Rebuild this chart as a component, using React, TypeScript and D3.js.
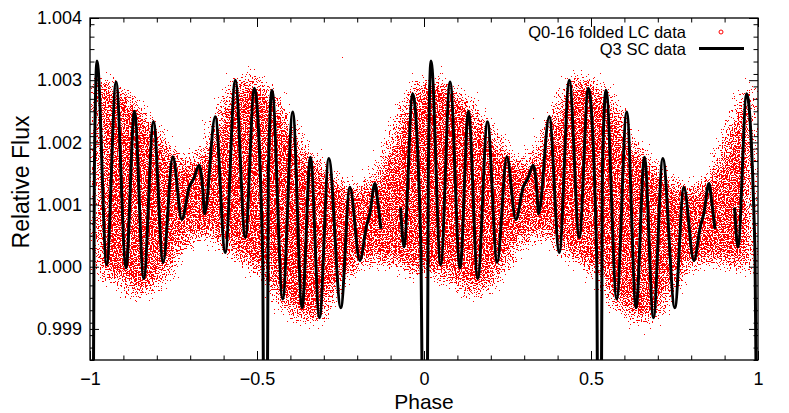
import React, { useEffect, useRef } from 'react'
import * as d3 from 'd3'

// folded long-cadence cloud: envelope (phase 0..1, repeated at -1..0)
const envPhase = [0, 0.05, 0.1, 0.15, 0.2, 0.25, 0.3, 0.35, 0.4, 0.45, 0.5,
  0.55, 0.6, 0.65, 0.7, 0.75, 0.8, 0.85, 0.9, 0.95, 1.0]
const envUpper = [1.00313, 1.00308, 1.00292, 1.00268, 1.00236, 1.00198, 1.00172, 1.00223, 1.00284, 1.00311, 1.00313,
  1.0029, 1.00252, 1.00198, 1.00171, 1.00147, 1.00132, 1.0016, 1.00235, 1.00287, 1.00313]
const envLower = [0.99982, 0.99977, 0.99955, 0.99942, 0.99958, 0.99985, 1.0003, 1.00045, 1.00018, 1.0, 0.99985,
  0.9994, 0.99913, 0.99902, 0.99907, 0.99952, 0.9999, 1.0, 0.99997, 0.99984, 0.99982]

// Q3 short-cadence curve, null = gap in the data
const scPhase = [0.01, 0.013, 0.021, 0.05, 0.078, 0.108, 0.133, 0.161, 0.19, 0.219, 0.248, 0.275,
  0.297, 0.311, 0.327, 0.338, 0.343, 0.375, 0.405, 0.435, 0.465, 0.492, 0.517, 0.52,
  0.531, 0.534, 0.545, 0.577, 0.607, 0.635, 0.66, 0.687, 0.715, 0.751, 0.778, 0.808,
  0.828, 0.838, 0.853, 0.862, 0.871, 0.9, 0.93, 0.94, 0.966, 0.991, 0.995]
const scFlux = [0.9978, 1.0015, 1.00331, 1.00003, 1.00297, 0.99998, 1.0025, 0.99981, 1.00233, 1.00007, 1.00177, 1.00076,
  1.00128, 1.00142, 1.00163, 1.00122, 1.00085, 1.00241, 1.00023, 1.003, 1.00047, 1.00287, 1.0002, 0.9978,
  0.9978, 1.0015, 1.00284, 0.99948, 1.00249, 0.99934, 1.00176, 0.99918, 1.00174, 0.99934, 1.00128, 1.0001,
  1.00066, 1.00086, 1.00134, 1.00102, 1.00061, null, 1.00095, 1.00032, 1.00278, 1.00025, 0.9978]

const foldOffsets = [-1, 0]
const xMajor = [-1, -0.5, 0, 0.5, 1]
const yMajor = [0.999, 1.0, 1.001, 1.002, 1.003, 1.004]

const W = 789
const H = 413
const plot = { left: 90, right: 758, top: 18, bottom: 360 }
const font = 'Liberation Sans, Arial, Helvetica, sans-serif'

export default function App() {
  const ref = useRef<SVGSVGElement>(null)

  useEffect(() => {
    const svg = d3.select(ref.current)
    svg.selectAll('*').remove()

    const x = d3.scaleLinear().domain([-1, 1]).range([plot.left, plot.right])
    const y = d3.scaleLinear().domain([0.9985, 1.004]).range([plot.bottom, plot.top])

    const defs = svg.append('defs')
    defs.append('clipPath').attr('id', 'plotClip')
      .append('rect')
      .attr('x', plot.left).attr('y', plot.top)
      .attr('width', plot.right - plot.left).attr('height', plot.bottom - plot.top)

    // speckle texture: noise thresholded against a blurred copy of the band,
    // so dots thin out towards the edges like a scatter cloud
    const f = defs.append('filter')
      .attr('id', 'cloud')
      .attr('filterUnits', 'userSpaceOnUse')
      .attr('x', plot.left).attr('y', plot.top)
      .attr('width', plot.right - plot.left).attr('height', plot.bottom - plot.top)
      .attr('color-interpolation-filters', 'sRGB')
    f.append('feGaussianBlur').attr('in', 'SourceAlpha').attr('stdDeviation', 10).attr('result', 'soft')
    f.append('feTurbulence').attr('type', 'fractalNoise').attr('baseFrequency', 0.75)
      .attr('numOctaves', 2).attr('seed', 11).attr('result', 'noise')
    f.append('feColorMatrix').attr('in', 'noise').attr('type', 'matrix')
      .attr('values', '0 0 0 0 0  0 0 0 0 0  0 0 0 0 0  1 0 0 0 0').attr('result', 'nA')
    f.append('feComposite').attr('in', 'nA').attr('in2', 'soft').attr('operator', 'arithmetic')
      .attr('k1', 0).attr('k2', 1).attr('k3', 0.45).attr('k4', -0.42).attr('result', 'mix')
    const ct = f.append('feComponentTransfer').attr('in', 'mix').attr('result', 'mask')
    ct.append('feFuncA').attr('type', 'discrete').attr('tableValues', '0 1')
    f.append('feFlood').attr('flood-color', '#ff0000').attr('result', 'red')
    f.append('feComposite').attr('in', 'red').attr('in2', 'mask').attr('operator', 'in')

    const g = svg.append('g').attr('clip-path', 'url(#plotClip)')

    // red cloud
    const cloud = g.append('g').attr('filter', 'url(#cloud)')
    foldOffsets.forEach(off => {
      const area = d3.area<number>()
        .x((_, i) => x(envPhase[i] + off))
        .y0((_, i) => y(envLower[i]))
        .y1((_, i) => y(envUpper[i]))
        .curve(d3.curveMonotoneX)
      cloud.append('path')
        .attr('d', area(envPhase))
        .attr('fill', '#000')
    })

    // black SC curve
    foldOffsets.forEach(off => {
      const line = d3.line<number>()
        .defined((_, i) => scFlux[i] != null)
        .x((_, i) => x(scPhase[i] + off))
        .y((_, i) => y(scFlux[i] as number))
        .curve(d3.curveMonotoneX)
      g.append('path')
        .attr('d', line(scPhase))
        .attr('fill', 'none')
        .attr('stroke', '#000')
        .attr('stroke-width', 3)
        .attr('stroke-linejoin', 'round')
    })

    // axes with inward ticks on all sides
    const xMinor = d3.range(-10, 11).map(v => v / 10).filter(v => Math.abs(v * 2 - Math.round(v * 2)) > 1e-6)
    const yMinor = d3.range(9985, 10041, 2).map(v => v / 10000).filter(v => Math.abs(v * 1000 - Math.round(v * 1000)) > 1e-6)

    const styleAxis = (sel: any) => {
      sel.select('.domain').remove()
      sel.selectAll('line').attr('stroke', '#000').attr('stroke-width', 1)
      sel.selectAll('text').attr('fill', '#000').style('font-family', font).style('font-size', '18px')
    }

    svg.append('g').attr('transform', `translate(0,${plot.bottom})`)
      .call(d3.axisBottom(x).tickValues(xMajor).tickSize(-9).tickSizeOuter(0).tickPadding(12)
        .tickFormat(d => d3.format('')(d as number)))
      .call(styleAxis)
    svg.append('g').attr('transform', `translate(0,${plot.bottom})`)
      .call(d3.axisBottom(x).tickValues(xMinor).tickSize(-4.5).tickSizeOuter(0).tickFormat(() => ''))
      .call(styleAxis)
    svg.append('g').attr('transform', `translate(0,${plot.top})`)
      .call(d3.axisTop(x).tickValues(xMajor).tickSize(-9).tickSizeOuter(0).tickFormat(() => ''))
      .call(styleAxis)
    svg.append('g').attr('transform', `translate(0,${plot.top})`)
      .call(d3.axisTop(x).tickValues(xMinor).tickSize(-4.5).tickSizeOuter(0).tickFormat(() => ''))
      .call(styleAxis)

    svg.append('g').attr('transform', `translate(${plot.left},0)`)
      .call(d3.axisLeft(y).tickValues(yMajor).tickSize(-9).tickSizeOuter(0).tickPadding(8)
        .tickFormat(d => d3.format('.3f')(d as number)))
      .call(styleAxis)
    svg.append('g').attr('transform', `translate(${plot.left},0)`)
      .call(d3.axisLeft(y).tickValues(yMinor).tickSize(-4.5).tickSizeOuter(0).tickFormat(() => ''))
      .call(styleAxis)
    svg.append('g').attr('transform', `translate(${plot.right},0)`)
      .call(d3.axisRight(y).tickValues(yMajor).tickSize(-9).tickSizeOuter(0).tickFormat(() => ''))
      .call(styleAxis)
    svg.append('g').attr('transform', `translate(${plot.right},0)`)
      .call(d3.axisRight(y).tickValues(yMinor).tickSize(-4.5).tickSizeOuter(0).tickFormat(() => ''))
      .call(styleAxis)

    svg.append('rect')
      .attr('x', plot.left).attr('y', plot.top)
      .attr('width', plot.right - plot.left).attr('height', plot.bottom - plot.top)
      .attr('fill', 'none').attr('stroke', '#000').attr('stroke-width', 1.3)

    // axis titles
    svg.append('text')
      .attr('x', (plot.left + plot.right) / 2).attr('y', 408.5)
      .attr('text-anchor', 'middle')
      .style('font-family', font).style('font-size', '21px')
      .text('Phase')
    svg.append('text')
      .attr('transform', `translate(29,182) rotate(-90)`)
      .attr('text-anchor', 'middle')
      .style('font-family', font).style('font-size', '23px')
      .text('Relative Flux')

    // legend
    const leg = svg.append('g').style('font-family', font).style('font-size', '16.5px')
    leg.append('text').attr('x', 686).attr('y', 38).attr('text-anchor', 'end').text('Q0-16 folded LC data')
    leg.append('circle').attr('cx', 721).attr('cy', 32).attr('r', 2)
      .attr('fill', 'none').attr('stroke', '#ff0000').attr('stroke-width', 1)
    leg.append('text').attr('x', 686).attr('y', 55).attr('text-anchor', 'end').text('Q3 SC data')
    leg.append('line').attr('x1', 699).attr('x2', 744).attr('y1', 48.5).attr('y2', 48.5)
      .attr('stroke', '#000').attr('stroke-width', 3)
  }, [])

  return (
    <svg ref={ref} width={W} height={H}
      style={{ position: 'absolute', left: 0, top: 0, background: '#fff' }} />
  )
}
